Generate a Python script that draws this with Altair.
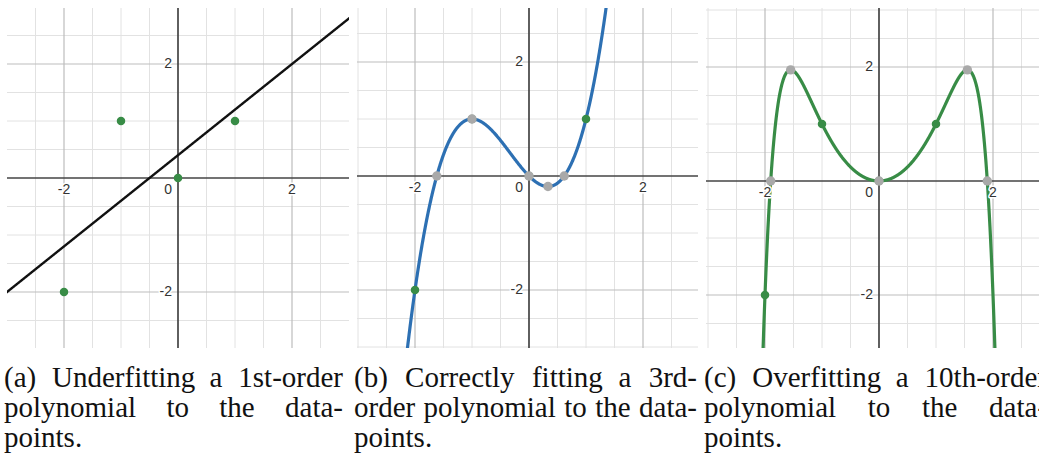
import numpy as np
import pandas as pd
import altair as alt

# ---------------------------------------------------------------- data
# the four samples every panel is fitted to
data_x = [-2, -1, 0, 1]
data_y = [-2, 1, 0, 1]

# (a) least-squares straight line  y = b0 + b1 x
lin_coef = [0.4, 0.8]

# (b) cubic through the four samples  y = -x + x^2 + x^3
cubic_coef = [0.0, -1.0, 1.0, 1.0]
cubic_key_x = [-1.618, -1.0, 0.0, 0.333, 0.618]
cubic_key_y = [0.0, 1.0, 0.0, -0.185, 0.0]

# (c) even 10th-order curve: zeros, peaks and the samples it passes through
tenth_key_x = [-1.90, -1.55, 0.0, 1.55, 1.90]
tenth_key_y = [0.0, 1.95, 0.0, 1.95, 0.0]

# sub-figure captions, one list of lines each
cap_a = ["(a) Underfitting a 1st-order", "polynomial to the data-", "points."]
cap_b = ["(b) Correctly fitting a 3rd-", "order polynomial to the data-", "points."]
cap_c = ["(c) Overfitting a 10th-order", "polynomial to the data-", "points."]

# ---------------------------------------------------------------- curves
def poly(coef, x):
    return sum(c * x ** k for k, c in enumerate(coef))

# 10th-order even polynomial q(u), u = x^2, pinned to the samples, zeros and peaks
r0, pk = tenth_key_x[4], tenth_key_x[3]
us = [1.0, 4.0, r0 ** 2, pk ** 2]
vs = [1.0, -2.0, 0.0, tenth_key_y[3]]
A = [[u ** k for k in range(1, 6)] for u in us]
A.append([k * (pk ** 2) ** (k - 1) for k in range(1, 6)])
tenth_c = np.linalg.solve(np.array(A), np.array(vs + [0.0]))


def tenth(x):
    u = x ** 2
    return sum(tenth_c[k - 1] * u ** k for k in range(1, 6))


# ---------------------------------------------------------------- caption layout
CAP_FONT = "Liberation Serif"
CAP_SIZE = 29
# advance widths (em) of the serif face, for justifying the caption lines
ADV = {"a": .444, "b": .5, "c": .444, "d": .5, "e": .444, "f": .333, "g": .5, "h": .5,
       "i": .278, "l": .278, "m": .778, "n": .5, "o": .5, "p": .5, "r": .333, "s": .389,
       "t": .278, "u": .5, "v": .5, "y": .5, "C": .667, "O": .722, "U": .722,
       "(": .333, ")": .333, "-": .333, ".": .25}


def word_width(w):
    w2 = w.replace("fi", "\u0000")  # fi ligature
    return CAP_SIZE * sum(.556 if ch == "\u0000" else (.5 if ch.isdigit() else ADV.get(ch, .5))
                          for ch in w2)


def justify(lines, col_w):
    """Word positions for a justified paragraph; the last line is set ragged."""
    rows = []
    for i, line in enumerate(lines):
        words = line.split(" ")
        widths = [word_width(w) for w in words]
        if i < len(lines) - 1 and len(words) > 1:
            gap = (col_w - sum(widths)) / (len(words) - 1)
        else:
            gap = 0.26 * CAP_SIZE
        x = 0.0
        for w, wd in zip(words, widths):
            rows.append((w, x, i))
            x += wd + gap
    return rows


UNIT = 57.0  # pixels per unit on both axes
LINE_GAP = 30
BASE0 = 379


def panel(xdom, ydom, width, height, fx, color, lw, green, gray, caption, cap_dx, col_w):
    xs = alt.Scale(domain=xdom, nice=False, zero=False)
    ys = alt.Scale(domain=ydom, nice=False, zero=False)

    ticks = np.arange(-3.0, 3.01, 0.5)
    minor = [t for t in ticks if abs(t) > 1e-9 and abs(abs(t) - 2) > 1e-9]
    major = [-2.0, 2.0]
    vmin = pd.DataFrame({"v": [t for t in minor if xdom[0] < t < xdom[1]]})
    hmin = pd.DataFrame({"v": [t for t in minor if ydom[0] < t < ydom[1]]})
    vmaj = pd.DataFrame({"v": major})
    hmaj = pd.DataFrame({"v": major})
    zero = pd.DataFrame({"v": [0.0]})

    def vrule(df, col, w):
        return alt.Chart(df).mark_rule(color=col, strokeWidth=w, clip=True).encode(
            x=alt.X("v:Q", scale=xs, axis=None))

    def hrule(df, col, w):
        return alt.Chart(df).mark_rule(color=col, strokeWidth=w, clip=True).encode(
            y=alt.Y("v:Q", scale=ys, axis=None))

    grid_c, major_c, axis_c = "#e2e2e2", "#bdbdbd", "#444444"
    layers = [
        vrule(vmin, grid_c, 1), hrule(hmin, grid_c, 1),
        vrule(vmaj, major_c, 1.2), hrule(hmaj, major_c, 1.2),
        vrule(zero, axis_c, 1.7), hrule(zero, axis_c, 1.7),
    ]

    sx = np.linspace(xdom[0] - 0.05, xdom[1] + 0.05, 1600)
    curve = pd.DataFrame({"x": sx, "y": fx(sx)})
    layers.append(alt.Chart(curve).mark_line(color=color, strokeWidth=lw, clip=True).encode(
        x=alt.X("x:Q", scale=xs, axis=None), y=alt.Y("y:Q", scale=ys, axis=None)))

    gdf = pd.DataFrame({"x": green[0], "y": green[1]})
    layers.append(alt.Chart(gdf).mark_circle(size=72, color="#388c46", opacity=1).encode(
        x=alt.X("x:Q", scale=xs, axis=None), y=alt.Y("y:Q", scale=ys, axis=None)))
    if gray is not None:
        ydf = pd.DataFrame({"x": gray[0], "y": gray[1]})
        layers.append(alt.Chart(ydf).mark_circle(size=88, color="#a9a9a9", opacity=1).encode(
            x=alt.X("x:Q", scale=xs, axis=None), y=alt.Y("y:Q", scale=ys, axis=None)))

    # tick labels next to the axes
    xl = pd.DataFrame({"x": [-2.0, 2.0], "y": [0.0, 0.0], "t": ["-2", "2"]})
    yl = pd.DataFrame({"x": [0.0, 0.0], "y": [2.0, -2.0], "t": ["2", "-2"]})
    ol = pd.DataFrame({"x": [0.0], "y": [0.0], "t": ["0"]})
    font = dict(font="Liberation Sans", fontSize=14)
    for df, kw in ((xl, dict(align="center", baseline="middle", dy=12)),
                   (yl, dict(align="right", baseline="middle", dx=-6)),
                   (ol, dict(align="right", baseline="middle", dx=-6, dy=12))):
        enc = dict(x=alt.X("x:Q", scale=xs, axis=None), y=alt.Y("y:Q", scale=ys, axis=None),
                   text="t:N")
        layers.append(alt.Chart(df).mark_text(color="white", stroke="white", strokeWidth=3,
                                              strokeJoin="round", **font, **kw).encode(**enc))
        layers.append(alt.Chart(df).mark_text(color="#333333", **font, **kw).encode(**enc))

    # justified caption below the graph
    words = justify(caption, col_w)
    cdf = pd.DataFrame({
        "w": [w for w, _, _ in words],
        "px": [cap_dx + x for _, x, _ in words],
        "py": [BASE0 + LINE_GAP * ln for _, _, ln in words],
    })
    layers.append(alt.Chart(cdf).mark_text(
        align="left", baseline="alphabetic", font=CAP_FONT, fontSize=CAP_SIZE,
        color="#111111").encode(
        x=alt.X("px:Q", scale=None, axis=None),
        y=alt.Y("py:Q", scale=None, axis=None),
        text="w:N"))

    return alt.layer(*layers).properties(width=width, height=height)


pa = panel([-171 / UNIT, 171 / UNIT], [-170 / UNIT, 170 / UNIT], 342, 340,
           lambda x: poly(lin_coef, x), "#111111", 2.4,
           (data_x, data_y), None, cap_a, -3, 339)
pb = panel([-172 / UNIT, 169 / UNIT], [-172 / UNIT, 168 / UNIT], 341, 340,
           lambda x: poly(cubic_coef, x), "#2d70b3", 3.2,
           (data_x, data_y), (cubic_key_x, cubic_key_y), cap_b, -3, 343)
pc = panel([-173 / UNIT, 160 / UNIT], [-167 / UNIT, 173 / UNIT], 333, 340,
           tenth, "#388c46", 3.2,
           (data_x, data_y), (tenth_key_x, tenth_key_y), cap_c, -2, 343)

# fixed 1039 x 456 canvas: content origin at (7, 8), anything past the edge is cut off
chart = alt.hconcat(pa, pb, pc, spacing=8, bounds="flush").properties(
    autosize=alt.AutoSizeParams(type="none"),
    padding={"left": 7, "top": 8, "right": 1032, "bottom": 448},
    background="white",
).configure_view(stroke=None)

chart.save("out.html", embed_options={"renderer": "svg", "actions": False})
